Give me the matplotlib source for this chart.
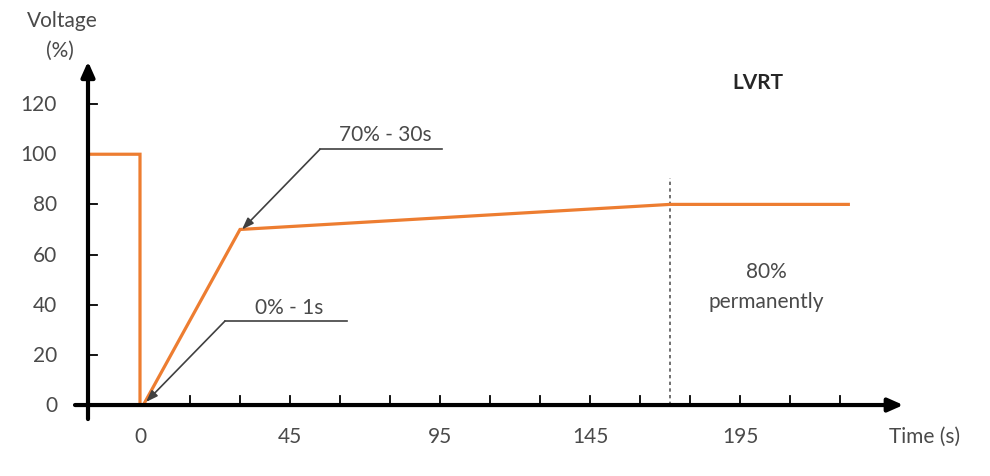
import matplotlib.pyplot as plt

# LVRT curve (time in s, voltage in %)
time_s = [-15, 0, 0, 1, 30, 159, 212.5]
voltage = [100, 100, 0, 0, 70, 80, 80]

# x axis: small ticks every 15 s, labels every third tick
minor_ticks = [15 * i for i in range(1, 15)]
label_pos = [0, 45, 90, 135, 180]
label_txt = ['0', '45', '95', '145', '195']
y_ticks = [0, 20, 40, 60, 80, 100, 120]
permanent_t = 159

plt.rcParams['font.family'] = ['Lato', 'DejaVu Sans']
txt_col = '#4a4a4a'
fs = 15

fig = plt.figure(figsize=(9.9, 4.77), dpi=100)
ax = fig.add_axes([0, 0, 1, 1])
ax.set_xlim(-42, 255)
ax.set_ylim(-28.3, 161.9)
ax.axis('off')

# axes with arrow heads
ax.annotate('', xy=(229, 0), xytext=(-19.5, 0),
            arrowprops=dict(arrowstyle='-|>,head_length=0.9,head_width=0.4', lw=3, color='black',
                            shrinkA=0, shrinkB=0))
ax.annotate('', xy=(-15.6, 137), xytext=(-15.6, -5.6),
            arrowprops=dict(arrowstyle='-|>,head_length=0.9,head_width=0.4', lw=3, color='black',
                            shrinkA=0, shrinkB=0))

for t in minor_ticks:
    ax.plot([t, t], [0, 3.6], color='black', lw=1.3)
for y in y_ticks[1:]:
    ax.plot([-15.6, -12.9], [y, y], color='black', lw=1.3)

for y in y_ticks:
    ax.text(-24.9, y, str(y), ha='right', va='center', fontsize=fs, color=txt_col)
for p, s in zip(label_pos, label_txt):
    ax.text(p, -12.4, s, ha='center', va='center', fontsize=fs, color=txt_col)
ax.text(235.5, -12.4, 'Time (s)', ha='center', va='center', fontsize=fs, color=txt_col)
ax.text(-23.4, 153.5, 'Voltage', ha='center', va='center', fontsize=fs, color=txt_col)
ax.text(-24, 141.5, '(%)', ha='center', va='center', fontsize=fs, color=txt_col)

# dashed marker where the 80% level is reached
ax.plot([permanent_t, permanent_t], [0, 90.5], color='#595959', lw=1.2, ls=(0, (2, 2)))

ax.plot(time_s, voltage, color='#ED7D31', lw=2.3, solid_joinstyle='miter')

# callouts
ax.plot([54, 90.6], [102, 102], color='#404040', lw=1.2)
ax.annotate('', xy=(30.6, 70), xytext=(54, 102),
            arrowprops=dict(arrowstyle='-|>,head_length=0.7,head_width=0.25', lw=1.2,
                            color='#404040', shrinkA=0, shrinkB=0))
ax.text(73.5, 108, '70% - 30s', ha='center', va='center', fontsize=fs, color=txt_col)

ax.plot([25.5, 62.1], [33.5, 33.5], color='#404040', lw=1.2)
ax.annotate('', xy=(1.8, 1.2), xytext=(25.5, 33.5),
            arrowprops=dict(arrowstyle='-|>,head_length=0.7,head_width=0.25', lw=1.2,
                            color='#404040', shrinkA=0, shrinkB=0))
ax.text(44.7, 39, '0% - 1s', ha='center', va='center', fontsize=fs, color=txt_col)

ax.text(185.4, 128.8, 'LVRT', ha='center', va='center', fontsize=fs, fontweight='bold', color='#262626')
ax.text(188, 53.5, '80%', ha='center', va='center', fontsize=fs, color=txt_col)
ax.text(188, 41.5, 'permanently', ha='center', va='center', fontsize=fs, color=txt_col)

fig.savefig('out.png', dpi=100, facecolor='white')
